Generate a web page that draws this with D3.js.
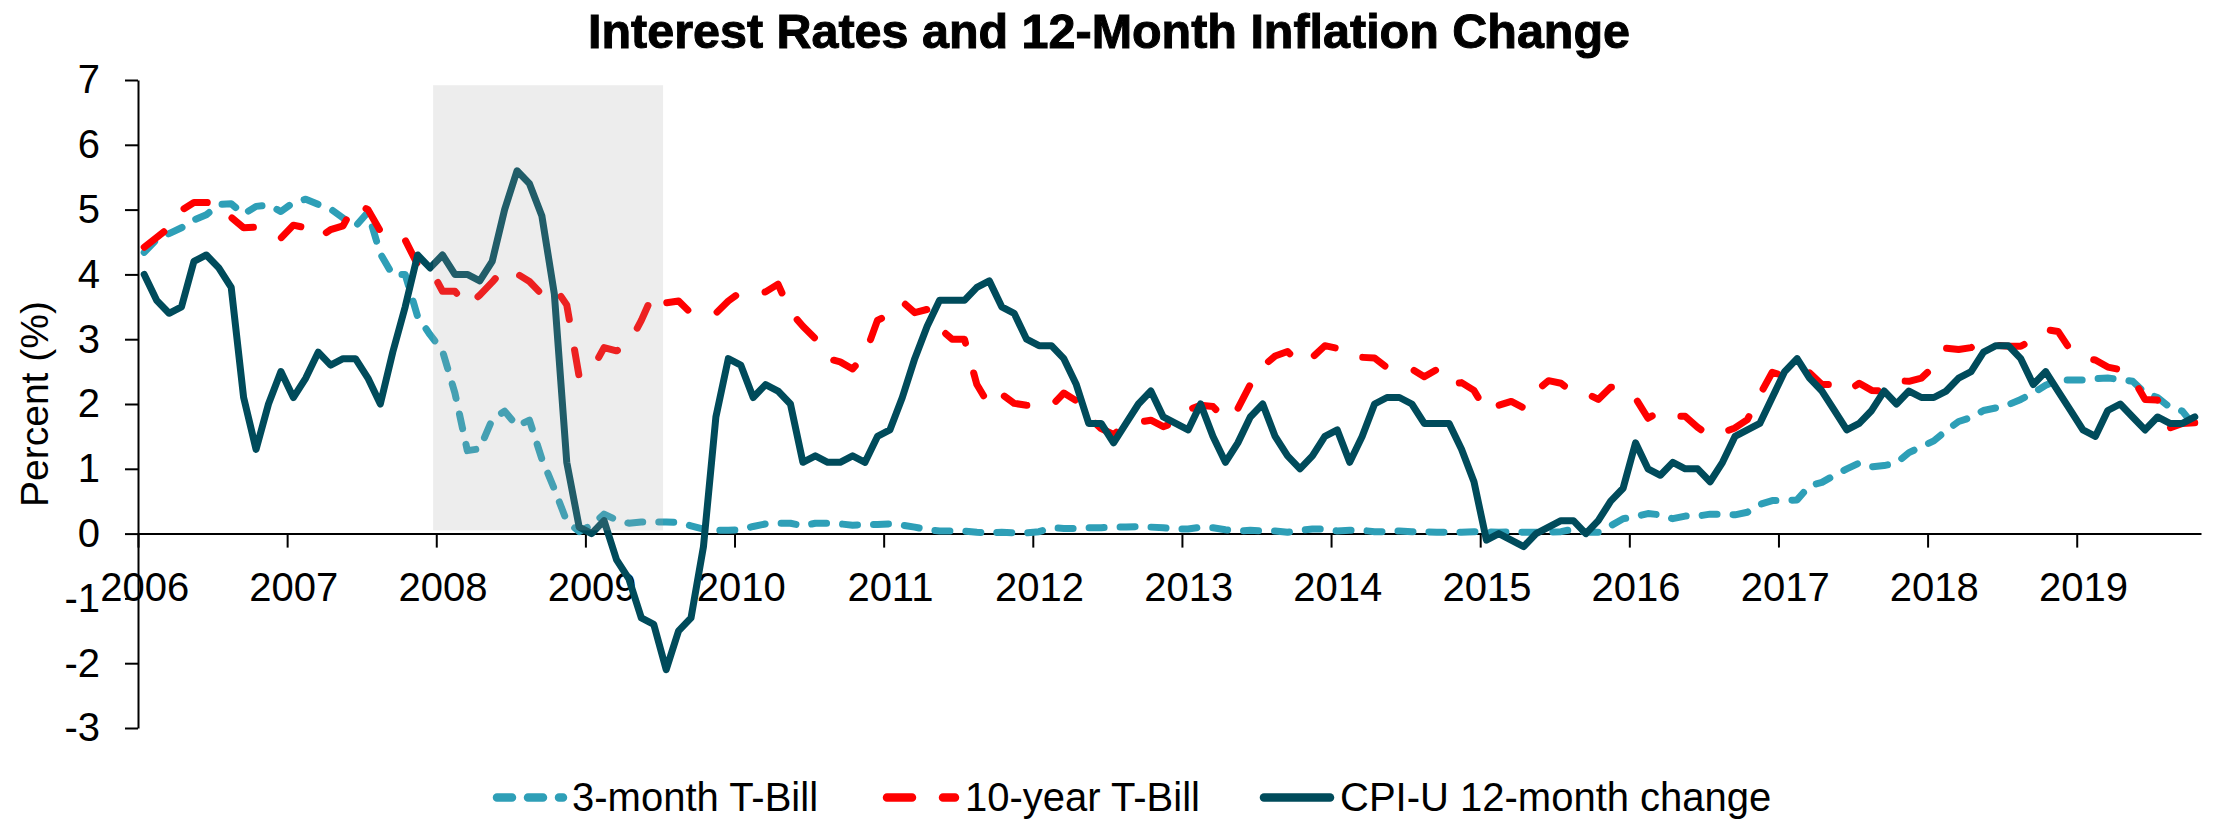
<!DOCTYPE html>
<html>
<head>
<meta charset="utf-8">
<script src="https://cdn.jsdelivr.net/npm/d3@7"></script>
<style>
  html, body { margin: 0; padding: 0; background: #fff; }
  svg { display: block; }
</style>
</head>
<body>
<svg id="chart" width="2213" height="819"></svg>
<script>
// ---------------- DATA ----------------
const startYear = 2006;
const yearLabels = ["2006","2007","2008","2009","2010","2011","2012","2013","2014","2015","2016","2017","2018","2019"];
const yTickValues = [-3,-2,-1,0,1,2,3,4,5,6,7];
const seriesNames = ["3-month T-Bill", "10-year T-Bill", "CPI-U 12-month change"];

// Monthly values, Jan 2006 .. Oct 2019
const tbill3m = [
  4.34,4.54,4.63,4.72,4.84,4.92,5.08,5.09,4.93,5.05,5.07,4.97,
  5.11,5.16,5.08,5.01,4.87,4.74,4.96,4.32,3.99,4.00,3.35,3.07,
  2.82,2.17,1.28,1.31,1.76,1.89,1.66,1.75,1.15,0.69,0.19,0.03,
  0.13,0.30,0.21,0.16,0.18,0.18,0.18,0.17,0.12,0.07,0.05,0.05,
  0.06,0.11,0.15,0.16,0.16,0.12,0.16,0.16,0.15,0.13,0.14,0.14,
  0.15,0.13,0.10,0.06,0.04,0.04,0.04,0.02,0.01,0.02,0.01,0.01,
  0.03,0.09,0.08,0.08,0.09,0.09,0.10,0.10,0.11,0.10,0.09,0.07,
  0.07,0.10,0.09,0.06,0.04,0.05,0.04,0.04,0.02,0.05,0.07,0.07,
  0.04,0.05,0.05,0.03,0.03,0.04,0.03,0.03,0.02,0.02,0.02,0.03,
  0.03,0.02,0.03,0.02,0.02,0.02,0.03,0.07,0.02,0.02,0.12,0.23,
  0.26,0.31,0.29,0.23,0.27,0.27,0.30,0.30,0.29,0.33,0.45,0.51,
  0.51,0.52,0.74,0.79,0.90,1.00,1.09,1.03,1.05,1.09,1.25,1.34,
  1.43,1.59,1.73,1.79,1.90,1.94,1.99,2.07,2.17,2.29,2.37,2.37,
  2.37,2.39,2.40,2.38,2.35,2.17,2.10,1.95,1.89,1.65
];
const tbill10y = [
  4.42,4.57,4.72,4.99,5.11,5.11,5.09,4.88,4.72,4.73,4.60,4.56,
  4.76,4.72,4.56,4.69,4.75,5.10,5.00,4.67,4.52,4.53,4.15,4.10,
  3.74,3.74,3.51,3.68,3.88,4.10,4.01,3.89,3.69,3.81,3.53,2.42,
  2.52,2.87,2.82,2.93,3.29,3.72,3.56,3.59,3.40,3.39,3.40,3.59,
  3.73,3.69,3.73,3.85,3.42,3.20,3.01,2.70,2.65,2.54,2.76,3.29,
  3.39,3.58,3.41,3.46,3.17,3.00,3.00,2.30,1.98,2.15,2.01,1.98,
  1.97,1.97,2.17,2.05,1.80,1.62,1.53,1.68,1.72,1.75,1.65,1.72,
  1.91,1.98,1.96,1.76,1.93,2.30,2.58,2.74,2.81,2.62,2.72,2.90,
  2.86,2.71,2.72,2.71,2.56,2.60,2.54,2.42,2.53,2.30,2.33,2.21,
  1.88,1.98,2.04,1.94,2.20,2.36,2.32,2.17,2.17,2.07,2.26,2.24,
  2.09,1.78,1.89,1.81,1.81,1.64,1.50,1.56,1.63,1.76,2.14,2.49,
  2.43,2.42,2.48,2.30,2.30,2.19,2.32,2.21,2.20,2.36,2.35,2.40,
  2.58,2.86,2.84,2.87,2.98,2.91,2.89,2.89,3.00,3.15,3.12,2.83,
  2.71,2.68,2.57,2.53,2.40,2.07,2.06,1.63,1.70,1.71
];
const cpiChange = [
  4.0,3.6,3.4,3.5,4.2,4.3,4.1,3.8,2.1,1.3,2.0,2.5,
  2.1,2.4,2.8,2.6,2.7,2.7,2.4,2.0,2.8,3.5,4.3,4.1,
  4.3,4.0,4.0,3.9,4.2,5.0,5.6,5.4,4.9,3.7,1.1,0.1,
  0.0,0.2,-0.4,-0.7,-1.3,-1.4,-2.1,-1.5,-1.3,-0.2,1.8,2.7,
  2.6,2.1,2.3,2.2,2.0,1.1,1.2,1.1,1.1,1.2,1.1,1.5,
  1.6,2.1,2.7,3.2,3.6,3.6,3.6,3.8,3.9,3.5,3.4,3.0,
  2.9,2.9,2.7,2.3,1.7,1.7,1.4,1.7,2.0,2.2,1.8,1.7,
  1.6,2.0,1.5,1.1,1.4,1.8,2.0,1.5,1.2,1.0,1.2,1.5,
  1.6,1.1,1.5,2.0,2.1,2.1,2.0,1.7,1.7,1.7,1.3,0.8,
  -0.1,0.0,-0.1,-0.2,0.0,0.1,0.2,0.2,0.0,0.2,0.5,0.7,
  1.4,1.0,0.9,1.1,1.0,1.0,0.8,1.1,1.5,1.6,1.7,2.1,
  2.5,2.7,2.4,2.2,1.9,1.6,1.7,1.9,2.2,2.0,2.2,2.1,
  2.1,2.2,2.4,2.5,2.8,2.9,2.9,2.7,2.3,2.5,2.2,1.9,
  1.6,1.5,1.9,2.0,1.8,1.6,1.8,1.7,1.7,1.8
];
// Recession shading (month index from Jan 2006) and its value extent
const recessionMonths = [23.75, 42.25];
const recessionValues = [0.05, 6.92];

// ---------------- CHART ----------------
const svg = d3.select("#chart");
const FONT = "'Liberation Sans', Arial, Helvetica, sans-serif";
const nMonths = 166;

const x = d3.scaleLinear().domain([0, nMonths]).range([138, 2201]);
const y = d3.scaleLinear().domain([-3, 7]).range([728, 80]);

// Title
svg.append("text")
  .attr("x", 1109).attr("y", 48)
  .attr("text-anchor", "middle")
  .attr("font-family", "'Liberation Sans Narrow', 'Arial Narrow', 'Liberation Sans', Arial, sans-serif")
  .attr("font-weight", "bold")
  .attr("font-size", 49)
  .attr("textLength", 1042)
  .attr("lengthAdjust", "spacingAndGlyphs")
  .attr("stroke", "#000")
  .attr("stroke-width", 1)
  .text("Interest Rates and 12-Month Inflation Change");

// Axes
const yAxis = d3.axisLeft(y).tickValues(yTickValues).tickSize(13).tickSizeOuter(0).tickPadding(25)
  .tickFormat(d => String(d));
const gy = svg.append("g").attr("transform", `translate(${x(0)},0)`).call(yAxis);

const xTickVals = yearLabels.map((d, i) => i * 12);
const xAxis = d3.axisBottom(x).tickValues(xTickVals).tickSize(14).tickSizeOuter(0).tickPadding(25)
  .tickFormat((d) => yearLabels[d / 12]);
const gx = svg.append("g").attr("transform", `translate(0,${y(0)})`).call(xAxis);
gx.selectAll(".tick text").attr("dx", (x(1) - x(0)) / 2);

[gx, gy].forEach(g => {
  g.select(".domain").attr("stroke", "#000").attr("stroke-width", 2);
  g.selectAll(".tick line").attr("stroke", "#000").attr("stroke-width", 2);
  g.selectAll(".tick text").attr("font-family", FONT).attr("font-size", 40).attr("fill", "#000");
});
gy.raise();

// Y axis title
svg.append("text")
  .attr("transform", "translate(48,404) rotate(-90)")
  .attr("text-anchor", "middle")
  .attr("font-family", FONT)
  .attr("font-size", 39)
  .attr("fill", "#000")
  .text("Percent (%)");

// Series
const series = [
  { name: seriesNames[0], values: tbill3m, color: "#2e9fb7", dash: "15,16" },
  { name: seriesNames[1], values: tbill10y, color: "#ff0000", dash: "25,31" },
  { name: seriesNames[2], values: cpiChange, color: "#004b5b", dash: null }
];

const line = d3.line()
  .x((d, i) => x(i + 0.5))
  .y(d => y(d));

const gLines = svg.append("g");
series.forEach(s => {
  gLines.append("path")
    .datum(s.values)
    .attr("d", line)
    .attr("fill", "none")
    .attr("stroke", s.color)
    .attr("stroke-width", 7)
    .attr("stroke-linejoin", "round")
    .attr("stroke-linecap", "round")
    .attr("stroke-dasharray", s.dash);
});

// Recession shading overlay
svg.append("rect")
  .attr("x", x(recessionMonths[0]))
  .attr("width", x(recessionMonths[1]) - x(recessionMonths[0]))
  .attr("y", y(recessionValues[1]))
  .attr("height", y(recessionValues[0]) - y(recessionValues[1]))
  .attr("fill", "rgb(166,166,166)")
  .attr("fill-opacity", 0.2);

// Legend
const legendItems = [
  { s: series[0], x1: 497, x2: 563, tx: 572 },
  { s: series[1], x1: 887, x2: 955, tx: 965 },
  { s: series[2], x1: 1264, x2: 1330, tx: 1340 }
];
const gLeg = svg.append("g");
legendItems.forEach(it => {
  gLeg.append("line")
    .attr("x1", it.x1).attr("x2", it.x2)
    .attr("y1", 797.5).attr("y2", 797.5)
    .attr("stroke", it.s.color)
    .attr("stroke-width", 8.5)
    .attr("stroke-linecap", "round")
    .attr("stroke-dasharray", it.s.dash);
  gLeg.append("text")
    .attr("x", it.tx).attr("y", 811)
    .attr("font-family", FONT)
    .attr("font-size", 40)
    .attr("fill", "#000")
    .text(it.s.name);
});
</script>
</body>
</html>
